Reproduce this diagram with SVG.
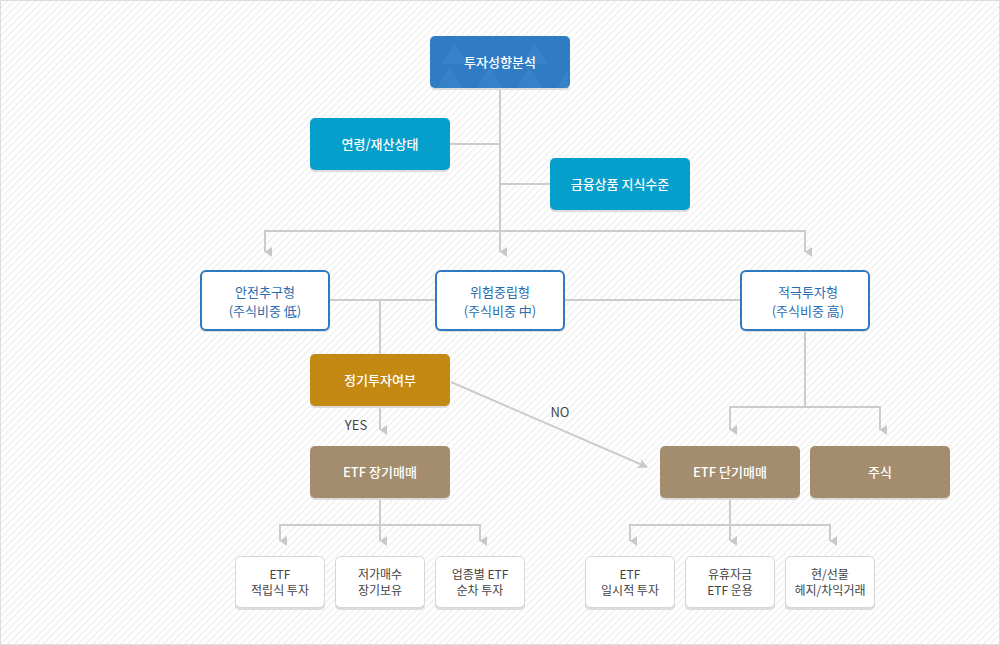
<svg xmlns="http://www.w3.org/2000/svg" width="1000" height="645" viewBox="0 0 1000 645">
<defs>
<pattern id="stripes" width="5" height="5" patternUnits="userSpaceOnUse" patternTransform="rotate(45)">
<rect width="5" height="5" fill="#ffffff"/>
<rect width="1.6" height="5" fill="#f1f1f1"/>
</pattern>
<marker id="arr" viewBox="0 0 10 8" refX="5" refY="7" markerWidth="10" markerHeight="8" markerUnits="userSpaceOnUse" orient="auto-start-reverse">
<path d="M0,0 L10,0 L5,7 Z" fill="#c8c8c8"/>
</marker>
<marker id="arrD" viewBox="0 0 10 10" refX="9" refY="5" markerWidth="10" markerHeight="10" markerUnits="userSpaceOnUse" orient="auto">
<path d="M0,0 L10,5 L0,10 L3,5 Z" fill="#c8c8c8"/>
</marker>
</defs>
<style>
.ln{stroke:#cccccc;stroke-width:2;fill:none}
.t{font-family:"Noto Sans CJK KR","Noto Sans",sans-serif;font-size:13px;text-anchor:middle}
.w{fill:#ffffff;font-weight:500}
.b{fill:#2a6cb0}
.g{fill:#444444;font-size:12px}
.lbl{font-family:"Noto Sans CJK KR","Noto Sans",sans-serif;font-size:13px;fill:#444444;text-anchor:middle}
.sh{fill:#dcdcdc}
</style>
<rect x="0.5" y="0.5" width="999" height="644" fill="url(#stripes)" stroke="#dddddd" stroke-width="1"/>

<g id="connectors">
<path class="ln" d="M500,88 V231"/>
<path class="ln" d="M450,144 H500"/>
<path class="ln" d="M500,184 H550"/>
<path class="ln" d="M265,231 H805"/>
<path class="ln" d="M265,230 V252" marker-end="url(#arr)"/>
<path class="ln" d="M500,230 V252" marker-end="url(#arr)"/>
<path class="ln" d="M805,230 V252" marker-end="url(#arr)"/>
<path class="ln" d="M330,300 H435"/>
<path class="ln" d="M565,300 H740"/>
<path class="ln" d="M380,300 V354"/>
<path class="ln" d="M380,406 V430" marker-end="url(#arr)"/>
<path class="ln" d="M451,382 L647,467" stroke-width="1.5" marker-end="url(#arrD)"/>
<path class="ln" d="M805,330 V407"/>
<path class="ln" d="M730,407 H880"/>
<path class="ln" d="M730,406 V430" marker-end="url(#arr)"/>
<path class="ln" d="M880,406 V430" marker-end="url(#arr)"/>
<path class="ln" d="M380,498 V541" marker-end="url(#arr)"/>
<path class="ln" d="M280,525 H480"/>
<path class="ln" d="M280,524 V541" marker-end="url(#arr)"/>
<path class="ln" d="M480,524 V541" marker-end="url(#arr)"/>
<path class="ln" d="M730,498 V541" marker-end="url(#arr)"/>
<path class="ln" d="M630,525 H830"/>
<path class="ln" d="M630,524 V541" marker-end="url(#arr)"/>
<path class="ln" d="M830,524 V541" marker-end="url(#arr)"/>
<text class="lbl" x="356" y="430">YES</text>
<text class="lbl" x="560" y="417">NO</text>
</g>

<g id="n-top">
<rect class="sh" x="430" y="38" width="140" height="52" rx="5"/>
<rect x="430" y="36" width="140" height="52" rx="5" fill="#2f7bc4"/>
<path d="M437,88 L450,66 L463,88 Z M477,88 L490,66 L503,88 Z M517,88 L530,66 L543,88 Z M557,88 L568,70 L568,88 Z M455,42 L468,64 L442,64 Z M535,42 L548,64 L522,64 Z" fill="#3984ca" opacity="0.7"/>
<text class="t w" x="500" y="67">투자성향분석</text>
</g>

<g id="n-age">
<rect class="sh" x="310" y="120" width="140" height="52" rx="5"/>
<rect x="310" y="118" width="140" height="52" rx="5" fill="#069ecb"/>
<text class="t w" x="380" y="149">연령/재산상태</text>
</g>

<g id="n-know">
<rect class="sh" x="550" y="160" width="140" height="52" rx="5"/>
<rect x="550" y="158" width="140" height="52" rx="5" fill="#069ecb"/>
<text class="t w" x="620" y="189">금융상품 지식수준</text>
</g>

<g id="n-safe">
<rect class="sh" x="200" y="272" width="130" height="60" rx="5"/>
<rect x="201" y="271" width="128" height="59" rx="5" fill="#ffffff" stroke="#2f79c0" stroke-width="2"/>
<text class="t b" x="265" y="297">안전추구형</text>
<text class="t b" x="265" y="316">(주식비중 低)</text>
</g>

<g id="n-neutral">
<rect class="sh" x="435" y="272" width="130" height="60" rx="5"/>
<rect x="436" y="271" width="128" height="59" rx="5" fill="#ffffff" stroke="#2f79c0" stroke-width="2"/>
<text class="t b" x="500" y="297">위험중립형</text>
<text class="t b" x="500" y="316">(주식비중 中)</text>
</g>

<g id="n-active">
<rect class="sh" x="740" y="272" width="130" height="60" rx="5"/>
<rect x="741" y="271" width="128" height="59" rx="5" fill="#ffffff" stroke="#2f79c0" stroke-width="2"/>
<text class="t b" x="808" y="297">적극투자형</text>
<text class="t b" x="808" y="316">(주식비중 高)</text>
</g>

<g id="n-regular">
<rect class="sh" x="310" y="356" width="140" height="52" rx="5"/>
<rect x="310" y="354" width="140" height="52" rx="5" fill="#c38912"/>
<text class="t w" x="380" y="385">정기투자여부</text>
</g>

<g id="n-etf-long">
<rect class="sh" x="310" y="448" width="140" height="52" rx="5"/>
<rect x="310" y="446" width="140" height="52" rx="5" fill="#a48d6e"/>
<text class="t w" x="380" y="477">ETF 장기매매</text>
</g>

<g id="n-etf-short">
<rect class="sh" x="660" y="448" width="140" height="52" rx="5"/>
<rect x="660" y="446" width="140" height="52" rx="5" fill="#a48d6e"/>
<text class="t w" x="730" y="477">ETF 단기매매</text>
</g>

<g id="n-stock">
<rect class="sh" x="810" y="448" width="140" height="52" rx="5"/>
<rect x="810" y="446" width="140" height="52" rx="5" fill="#a48d6e"/>
<text class="t w" x="880" y="477">주식</text>
</g>

<g id="l1">
<rect class="sh" x="235" y="558" width="90" height="52" rx="5"/>
<rect x="235.5" y="556.5" width="89" height="51" rx="5" fill="#ffffff" stroke="#d6d6d6"/>
<text class="t g" x="280" y="579">ETF</text>
<text class="t g" x="280" y="595">적립식 투자</text>
</g>
<g id="l2">
<rect class="sh" x="335" y="558" width="90" height="52" rx="5"/>
<rect x="335.5" y="556.5" width="89" height="51" rx="5" fill="#ffffff" stroke="#d6d6d6"/>
<text class="t g" x="380" y="579">저가매수</text>
<text class="t g" x="380" y="595">장기보유</text>
</g>
<g id="l3">
<rect class="sh" x="435" y="558" width="90" height="52" rx="5"/>
<rect x="435.5" y="556.5" width="89" height="51" rx="5" fill="#ffffff" stroke="#d6d6d6"/>
<text class="t g" x="480" y="579">업종별 ETF</text>
<text class="t g" x="480" y="595">순차 투자</text>
</g>
<g id="l4">
<rect class="sh" x="585" y="558" width="90" height="52" rx="5"/>
<rect x="585.5" y="556.5" width="89" height="51" rx="5" fill="#ffffff" stroke="#d6d6d6"/>
<text class="t g" x="630" y="579">ETF</text>
<text class="t g" x="630" y="595">일시적 투자</text>
</g>
<g id="l5">
<rect class="sh" x="685" y="558" width="90" height="52" rx="5"/>
<rect x="685.5" y="556.5" width="89" height="51" rx="5" fill="#ffffff" stroke="#d6d6d6"/>
<text class="t g" x="730" y="579">유휴자금</text>
<text class="t g" x="730" y="595">ETF 운용</text>
</g>
<g id="l6">
<rect class="sh" x="785" y="558" width="90" height="52" rx="5"/>
<rect x="785.5" y="556.5" width="89" height="51" rx="5" fill="#ffffff" stroke="#d6d6d6"/>
<text class="t g" x="830" y="579">현/선물</text>
<text class="t g" x="830" y="595">헤지/차익거래</text>
</g>
</svg>
